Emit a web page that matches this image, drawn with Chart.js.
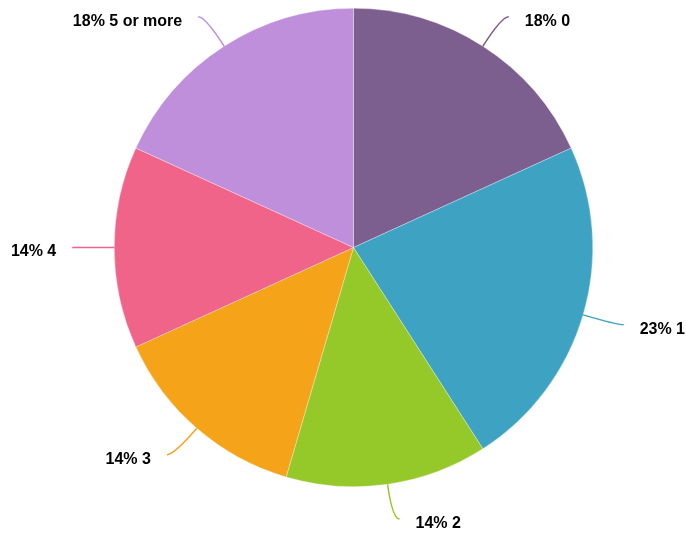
<!DOCTYPE html>
<html>
<head>
<meta charset="utf-8">
<script src="https://cdn.jsdelivr.net/npm/chart.js@4"></script>
<style>
  body { margin: 0; background: #fff; }
  canvas { display: block; }
</style>
</head>
<body>
<canvas id="pie" width="686" height="538"></canvas>
<script>
const categories = ["0", "1", "2", "3", "4", "5 or more"];
const counts = [4, 5, 3, 3, 3, 4];
const colors = ["#7d5f8f", "#3ea3c3", "#95c829", "#f5a41a", "#f06489", "#bf8fdb"];

const total = counts.reduce((a, b) => a + b, 0);

// outside labels with curved leader lines
const outsideLabels = {
  id: "outsideLabels",
  afterDatasetsDraw(chart) {
    const ctx = chart.ctx;
    const meta = chart.getDatasetMeta(0);
    ctx.save();
    meta.data.forEach((arc, i) => {
      const mid = (arc.startAngle + arc.endAngle) / 2;
      const r = arc.outerRadius;
      const cos = Math.cos(mid), sin = Math.sin(mid);
      const right = cos >= 0;
      const sx = arc.x + r * cos, sy = arc.y + r * sin;
      const kx = arc.x + (r + 35) * cos, ky = arc.y + (r + 35) * sin;
      const ex = kx + (right ? 7 : -7), ey = ky;
      ctx.beginPath();
      ctx.moveTo(sx, sy);
      ctx.quadraticCurveTo(kx, ky, ex, ey);
      ctx.strokeStyle = colors[i];
      ctx.lineWidth = 1.5;
      ctx.stroke();

      const pct = Math.round(counts[i] / total * 100);
      ctx.fillStyle = "#000";
      ctx.font = "bold 16px 'Liberation Sans', Arial, sans-serif";
      ctx.textBaseline = "middle";
      ctx.textAlign = right ? "left" : "right";
      ctx.fillText(pct + "% " + categories[i], right ? ex + 16 : ex - 16, ey + 4.5);
    });
    ctx.restore();
  }
};

new Chart("pie", {
  type: "pie",
  data: {
    labels: categories,
    datasets: [{
      data: counts,
      backgroundColor: colors,
      borderColor: "rgba(255,255,255,0.6)",
      borderWidth: 0.5
    }]
  },
  options: {
    responsive: false,
    animation: false,
    layout: { padding: { top: 8, bottom: 51, left: 80, right: 59 } },
    plugins: {
      legend: { display: false },
      tooltip: { enabled: false }
    }
  },
  plugins: [outsideLabels]
});
</script>
</body>
</html>
